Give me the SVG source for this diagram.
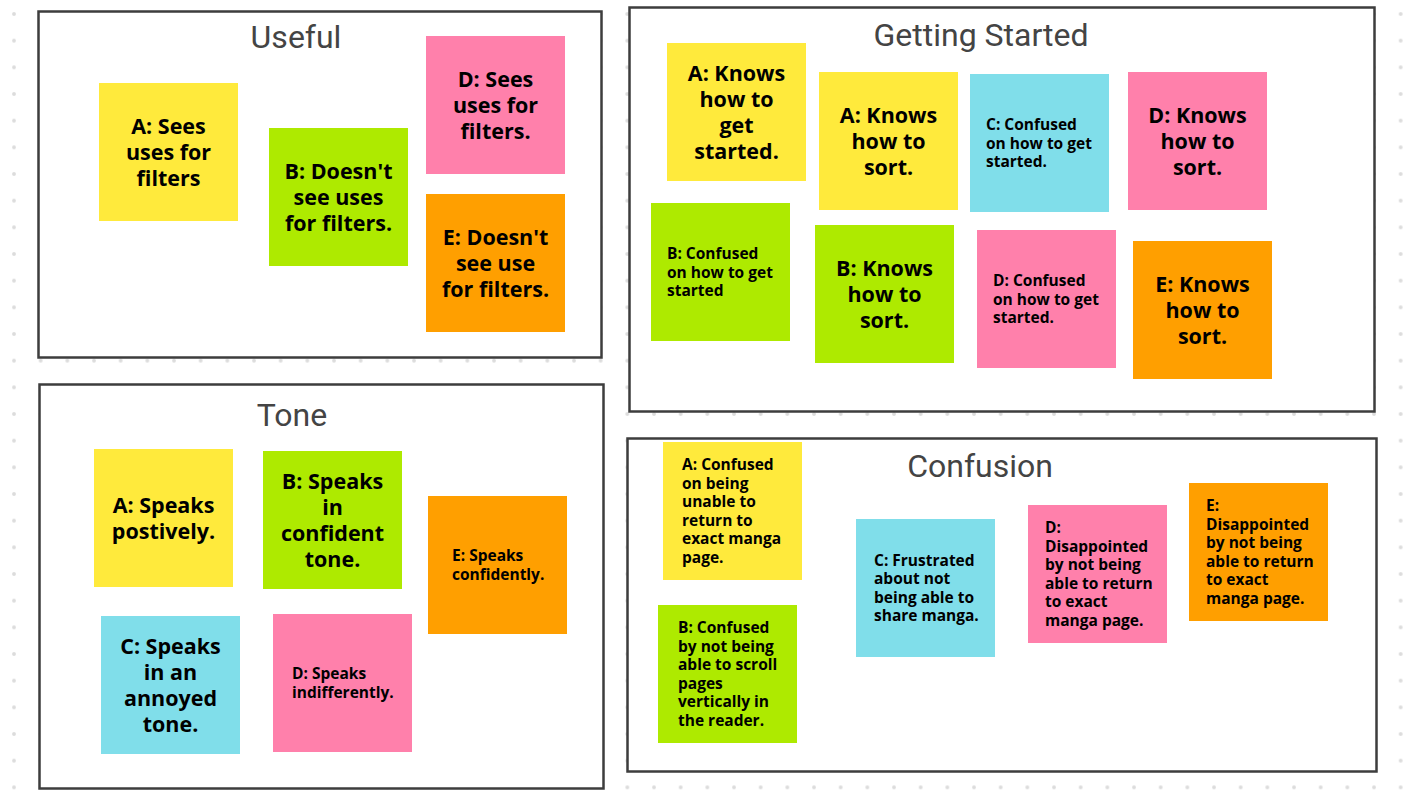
<svg xmlns="http://www.w3.org/2000/svg" width="1422" height="800" viewBox="0 0 1422 800">
<style>
.frame{fill:#fff;stroke:#3d3d3d;stroke-width:2.5}
.title{font-family:Roboto,"Liberation Sans",sans-serif;font-size:32px;fill:#444;text-anchor:middle}
.big{font-family:"Open Sans","Noto Sans",sans-serif;font-weight:700;font-size:21.5px;fill:#000;text-anchor:middle}
.sm{font-family:"Open Sans","Noto Sans",sans-serif;font-weight:700;font-size:15.5px;fill:#000}
.y{fill:#FFEA3C}.g{fill:#AEEA00}.p{fill:#FF80AB}.o{fill:#FF9F00}.b{fill:#80DEEA}
</style>
<defs>
<pattern id="dots" x="14" y="14" width="26.667" height="26.667" patternUnits="userSpaceOnUse">
<circle cx="0" cy="0" r="1.9" fill="#dcdcdc"/><circle cx="26.667" cy="0" r="1.9" fill="#dcdcdc"/><circle cx="0" cy="26.667" r="1.9" fill="#dcdcdc"/><circle cx="26.667" cy="26.667" r="1.9" fill="#dcdcdc"/>
</pattern>
</defs>
<rect width="1422" height="800" fill="#fff"/>
<rect width="1422" height="800" fill="url(#dots)"/>

<g id="frame-useful"><rect class="frame" x="38.5" y="11.5" width="563" height="346"/><text class="title" x="296" y="48">Useful</text></g>
<g id="frame-getting-started"><rect class="frame" x="629.5" y="7.5" width="745" height="404"/><text class="title" x="981" y="46">Getting Started</text></g>
<g id="frame-tone"><rect class="frame" x="39.5" y="384.5" width="564" height="404"/><text class="title" x="292" y="426">Tone</text></g>
<g id="frame-confusion"><rect class="frame" x="627.5" y="438.5" width="749" height="333"/><text class="title" x="980" y="477">Confusion</text></g>

<g id="useful-a"><rect class="y" x="99" y="83" width="139" height="138"/><text class="big"><tspan x="168.5" y="134">A: Sees</tspan><tspan x="168.5" y="160">uses for</tspan><tspan x="168.5" y="186">filters</tspan></text></g>
<g id="useful-b"><rect class="g" x="269" y="128" width="139" height="138"/><text class="big"><tspan x="338.5" y="179">B: Doesn't</tspan><tspan x="338.5" y="205">see uses</tspan><tspan x="338.5" y="231">for filters.</tspan></text></g>
<g id="useful-d"><rect class="p" x="426" y="36" width="139" height="138"/><text class="big"><tspan x="495.5" y="87">D: Sees</tspan><tspan x="495.5" y="113">uses for</tspan><tspan x="495.5" y="139">filters.</tspan></text></g>
<g id="useful-e"><rect class="o" x="426" y="194" width="139" height="138"/><text class="big"><tspan x="495.5" y="245">E: Doesn't</tspan><tspan x="495.5" y="271">see use</tspan><tspan x="495.5" y="297">for filters.</tspan></text></g>

<g id="gs-a-start"><rect class="y" x="667" y="43" width="139" height="138"/><text class="big"><tspan x="736.5" y="81">A: Knows</tspan><tspan x="736.5" y="107">how to</tspan><tspan x="736.5" y="133">get</tspan><tspan x="736.5" y="159">started.</tspan></text></g>
<g id="gs-a-sort"><rect class="y" x="819" y="72" width="139" height="138"/><text class="big"><tspan x="888.5" y="123">A: Knows</tspan><tspan x="888.5" y="149">how to</tspan><tspan x="888.5" y="175">sort.</tspan></text></g>
<g id="gs-c"><rect class="b" x="970" y="74" width="139" height="138"/><text class="sm"><tspan x="986" y="130">C: Confused</tspan><tspan x="986" y="148.5">on how to get</tspan><tspan x="986" y="167">started.</tspan></text></g>
<g id="gs-d-sort"><rect class="p" x="1128" y="72" width="139" height="138"/><text class="big"><tspan x="1197.5" y="123">D: Knows</tspan><tspan x="1197.5" y="149">how to</tspan><tspan x="1197.5" y="175">sort.</tspan></text></g>
<g id="gs-b-confused"><rect class="g" x="651" y="203" width="139" height="138"/><text class="sm"><tspan x="667" y="259">B: Confused</tspan><tspan x="667" y="277.5">on how to get</tspan><tspan x="667" y="296">started</tspan></text></g>
<g id="gs-b-sort"><rect class="g" x="815" y="225" width="139" height="138"/><text class="big"><tspan x="884.5" y="276">B: Knows</tspan><tspan x="884.5" y="302">how to</tspan><tspan x="884.5" y="328">sort.</tspan></text></g>
<g id="gs-d-confused"><rect class="p" x="977" y="230" width="139" height="138"/><text class="sm"><tspan x="993" y="286">D: Confused</tspan><tspan x="993" y="304.5">on how to get</tspan><tspan x="993" y="323">started.</tspan></text></g>
<g id="gs-e-sort"><rect class="o" x="1133" y="241" width="139" height="138"/><text class="big"><tspan x="1202.5" y="292">E: Knows</tspan><tspan x="1202.5" y="318">how to</tspan><tspan x="1202.5" y="344">sort.</tspan></text></g>

<g id="tone-a"><rect class="y" x="94" y="449" width="139" height="138"/><text class="big"><tspan x="163.5" y="513">A: Speaks</tspan><tspan x="163.5" y="539">postively.</tspan></text></g>
<g id="tone-b"><rect class="g" x="263" y="451" width="139" height="138"/><text class="big"><tspan x="332.5" y="489">B: Speaks</tspan><tspan x="332.5" y="515">in</tspan><tspan x="332.5" y="541">confident</tspan><tspan x="332.5" y="567">tone.</tspan></text></g>
<g id="tone-e"><rect class="o" x="428" y="496" width="139" height="138"/><text class="sm"><tspan x="452" y="561.25">E: Speaks</tspan><tspan x="452" y="579.75">confidently.</tspan></text></g>
<g id="tone-c"><rect class="b" x="101" y="616" width="139" height="138"/><text class="big"><tspan x="170.5" y="654">C: Speaks</tspan><tspan x="170.5" y="680">in an</tspan><tspan x="170.5" y="706">annoyed</tspan><tspan x="170.5" y="732">tone.</tspan></text></g>
<g id="tone-d"><rect class="p" x="273" y="614" width="139" height="138"/><text class="sm"><tspan x="292" y="679.25">D: Speaks</tspan><tspan x="292" y="697.75">indifferently.</tspan></text></g>

<g id="conf-a"><rect class="y" x="663" y="442" width="139" height="138"/><text class="sm"><tspan x="682" y="470.25">A: Confused</tspan><tspan x="682" y="488.75">on being</tspan><tspan x="682" y="507.25">unable to</tspan><tspan x="682" y="525.75">return to</tspan><tspan x="682" y="544.25">exact manga</tspan><tspan x="682" y="562.75">page.</tspan></text></g>
<g id="conf-b"><rect class="g" x="658" y="605" width="139" height="138"/><text class="sm"><tspan x="678" y="633.25">B: Confused</tspan><tspan x="678" y="651.75">by not being</tspan><tspan x="678" y="670.25">able to scroll</tspan><tspan x="678" y="688.75">pages</tspan><tspan x="678" y="707.25">vertically in</tspan><tspan x="678" y="725.75">the reader.</tspan></text></g>
<g id="conf-c"><rect class="b" x="856" y="519" width="139" height="138"/><text class="sm"><tspan x="874" y="565.75">C: Frustrated</tspan><tspan x="874" y="584.25">about not</tspan><tspan x="874" y="602.75">being able to</tspan><tspan x="874" y="621.25">share manga.</tspan></text></g>
<g id="conf-d"><rect class="p" x="1028" y="505" width="139" height="138"/><text class="sm"><tspan x="1045" y="533.25">D:</tspan><tspan x="1045" y="551.75">Disappointed</tspan><tspan x="1045" y="570.25">by not being</tspan><tspan x="1045" y="588.75">able to return</tspan><tspan x="1045" y="607.25">to exact</tspan><tspan x="1045" y="625.75">manga page.</tspan></text></g>
<g id="conf-e"><rect class="o" x="1189" y="483" width="139" height="138"/><text class="sm"><tspan x="1206" y="511.25">E:</tspan><tspan x="1206" y="529.75">Disappointed</tspan><tspan x="1206" y="548.25">by not being</tspan><tspan x="1206" y="566.75">able to return</tspan><tspan x="1206" y="585.25">to exact</tspan><tspan x="1206" y="603.75">manga page.</tspan></text></g>
</svg>
